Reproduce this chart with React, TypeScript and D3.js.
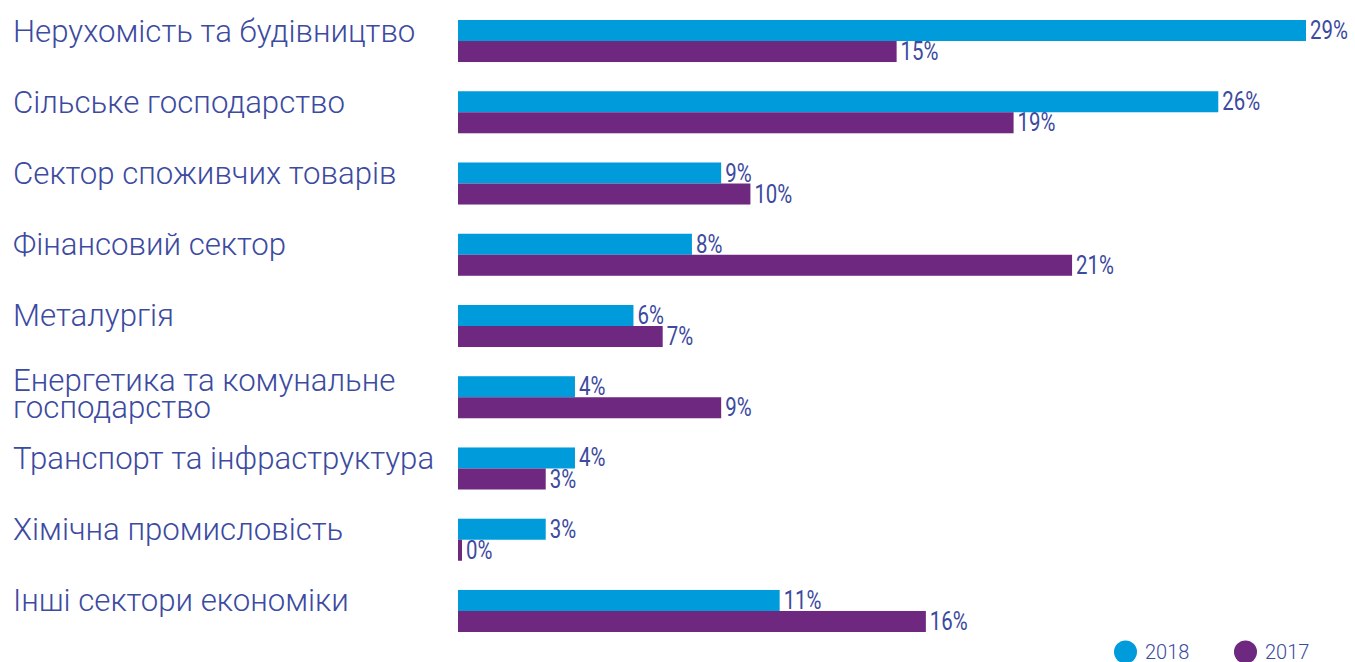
import React from "react";
import * as d3 from "d3";

const categories: string[][] = [
  ["Нерухомість та будівництво"],
  ["Сільське господарство"],
  ["Сектор споживчих товарів"],
  ["Фінансовий сектор"],
  ["Металургія"],
  ["Енергетика та комунальне", "господарство"],
  ["Транспорт та інфраструктура"],
  ["Хімічна промисловість"],
  ["Інші сектори економіки"],
];
const values2018: number[] = [29, 26, 9, 8, 6, 4, 4, 3, 11];
const values2017: number[] = [15, 19, 10, 21, 7, 9, 3, 0, 16];
const seriesNames: string[] = ["2018", "2017"];

const W = 1355;
const H = 662;
const BLUE = "#009bdb";
const PURPLE = "#6f2880";
const TEXT = "#3c4a9f";
const colors = [BLUE, PURPLE];

export default function App() {
  const keys = categories.map((_, i) => String(i));
  const y = d3
    .scaleBand<string>()
    .domain(keys)
    .range([20, 632])
    .paddingInner(0.41)
    .paddingOuter(0);
  const ySub = d3
    .scaleBand<string>()
    .domain(seriesNames)
    .range([0, y.bandwidth()])
    .padding(0);
  const x = d3.scaleLinear().domain([0, 29]).range([458, 1306]);
  const series = [values2018, values2017];

  return (
    <svg
      width={W}
      height={H}
      style={{ position: "absolute", left: 0, top: 0, background: "#fff" }}
      fontFamily="Roboto, 'Open Sans', sans-serif"
    >
      {categories.map((lines, i) => {
        const y0 = y(String(i))!;
        const first = y0 + 21.5 - (lines.length - 1) * 6.5;
        return (
          <text key={"l" + i} x={13} fill={TEXT} fontSize={31.2} fontWeight={300}>
            {lines.map((ln, j) => (
              <tspan key={j} x={13} y={first + j * 27}>
                {ln}
              </tspan>
            ))}
          </text>
        );
      })}
      {categories.map((_, i) => {
        const y0 = y(String(i))!;
        return (
          <g key={"g" + i}>
            {series.map((vals, s) => {
              const by = y0 + ySub(seriesNames[s])!;
              const bh = ySub.bandwidth();
              const w = Math.max(x(vals[i]) - x(0), 4);
              const lx = x(0) + w + 4;
              const ly = by + bh - 2;
              return (
                <g key={s}>
                  <rect x={x(0)} y={by} width={w} height={bh} fill={colors[s]} />
                  <text
                    transform={`translate(${lx},${ly}) scale(0.8,1)`}
                    fill={TEXT}
                    fontSize={25.5}
                    fontWeight={400}
                  >
                    {vals[i] + "%"}
                  </text>
                </g>
              );
            })}
          </g>
        );
      })}
      {seriesNames.map((name, s) => {
        const cx = 1125.5 + s * 120;
        return (
          <g key={"lg" + s}>
            <circle cx={cx} cy={652} r={11.5} fill={colors[s]} />
            <text x={cx + 19.5} y={659} fill={TEXT} fontSize={20} fontWeight={300}>
              {name}
            </text>
          </g>
        );
      })}
    </svg>
  );
}
